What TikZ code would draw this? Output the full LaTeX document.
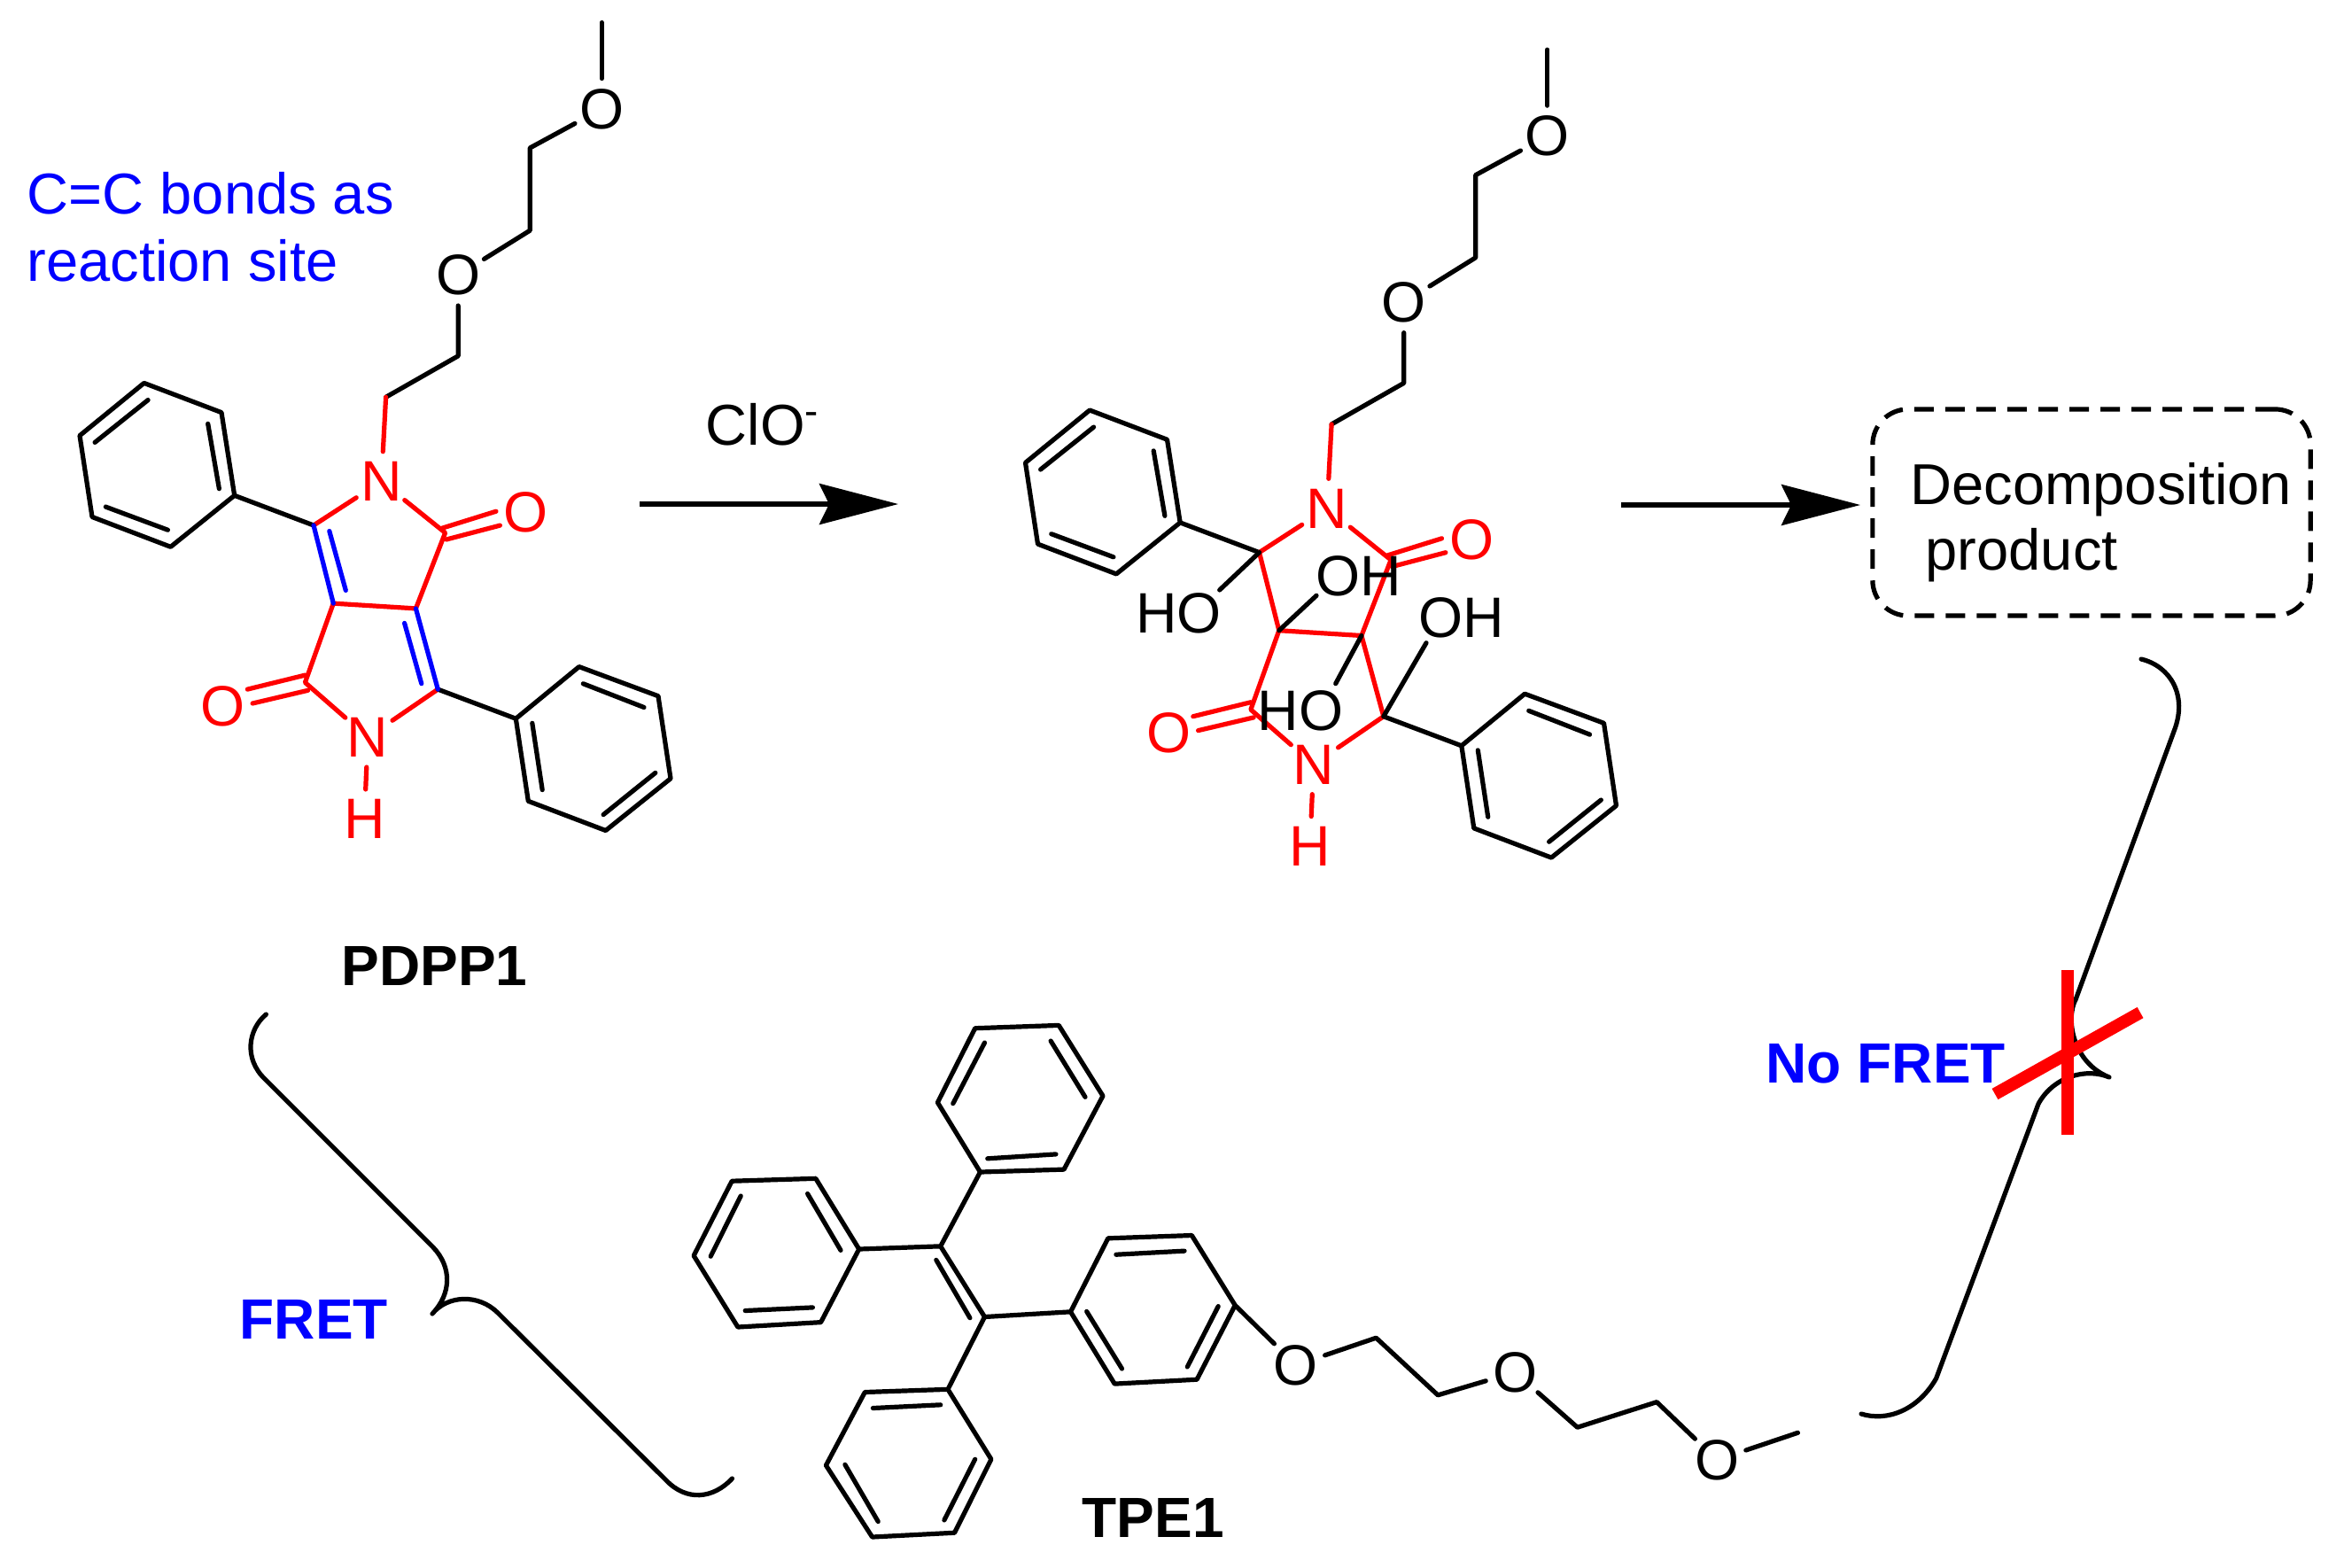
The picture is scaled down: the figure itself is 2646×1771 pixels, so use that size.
\documentclass[tikz,border=0pt]{standalone}
\usepackage{fontspec}
\setmainfont{Liberation Sans}
\usetikzlibrary{arrows.meta}
\tikzset{
  bond/.style={line width=.052cm, line join=round, line cap=round},
  redbond/.style={bond, red},
  bluebond/.style={bond, blue},
  atom/.style={circle, inner sep=0pt, minimum size=.66cm, font=\fontsize{18.3}{22}\selectfont},
  ohlabel/.style={inner sep=0pt, font=\fontsize{18.3}{22}\selectfont},
  caption/.style={inner sep=0pt, anchor=base west, font=\fontsize{18.5}{22}\selectfont},
  boxtext/.style={inner sep=0pt, anchor=base west, font=\fontsize{18.5}{22}\selectfont},
  molname/.style={inner sep=0pt, anchor=base west, font=\fontsize{18.2}{22}\selectfont\bfseries},
  rxnarrow/.style={line width=.052cm, -{Stealth[length=.89cm,width=.46cm,inset=.11cm]}},
  decbox/.style={draw, line width=.052cm, rounded corners=.4cm, dash pattern=on .22cm off .13cm,
    minimum width=4.94cm, minimum height=2.33cm, inner sep=0pt},
  crossbar/.style={red, line width=.14cm}
}
% the parts that both molecules share
\newcommand{\skeleton}{
  \node[atom, black] (otop) at (679.2,123) {O};
  \node[atom, black] (olow) at (517.2,310.6) {O};
  \node[atom, red] (nup) at (430.5,543.4) {N};
  \node[atom, red] (ndown) at (415.2,832.3) {N};
  \node[atom, red] (hn) at (411.3,924.7) {H};
  \node[atom, red] (oup) at (593.7,578.4) {O};
  \node[atom, red] (odown) at (251.9,797.2) {O};
  \coordinate (ca) at (354,593);
  \coordinate (cb) at (376.3,681.1);
  \coordinate (cd) at (469.4,686.9);
  \coordinate (ce) at (494.3,778.1);
  \coordinate (cf) at (502.6,601.4);
  \coordinate (cg) at (344.4,770.4);
  \coordinate (ch) at (435.6,448.3);
  \coordinate (phl) at (264.7,559.3);
  \coordinate (phr) at (582.3,811.2);
  \coordinate (metop) at (679.2,25.5);
  % chain
  \draw[bond] (metop) -- (otop);
  \draw[bond] (otop) -- (598.2,167) -- (598.2,260.2) -- (olow);
  \draw[bond] (olow) -- (517.2,401.8) -- (ch);
  \draw[redbond] (ch) -- (nup);
  % five-membered rings
  \draw[redbond] (ca) -- (nup);
  \draw[redbond] (nup) -- (cf) -- (cd);
  \draw[redbond] (cb) -- (cd);
  \draw[redbond] (cb) -- (cg) -- (ndown);
  \draw[redbond] (ndown) -- (ce);
  \draw[redbond] (ndown) -- (hn);
  % carbonyls
  \draw[redbond] (498.7,596.3) -- (560,577.2);
  \draw[redbond] (503.8,609) -- (564.4,593.1);
  \draw[redbond] (279.3,778.1) -- (344.4,762.1);
  \draw[redbond] (285.1,794) -- (347.6,779.3);
  % phenyls
  \draw[bond] (phl) -- (ca);
  \draw[bond] (phr) -- (ce);
  \draw[bond] (162.6,432.4) -- (250,465.6) -- (phl) -- (192.6,617.3) -- (104,583.5) -- (90,491.7) -- cycle;
  \draw[bond] (167.1,451.5) -- (107.1,499.4);
  \draw[bond] (234.7,478.3) -- (247.4,551.7);
  \draw[bond] (119.3,572.1) -- (189.4,598.2);
  \draw[bond] (phr) -- (653.7,752.6) -- (743,785.7) -- (757,878.8) -- (683.7,937.5) -- (596.3,904.3) -- cycle;
  \draw[bond] (658.2,771.7) -- (727,798.5);
  \draw[bond] (739.8,872.4) -- (681.1,919.6);
  \draw[bond] (600.8,816.3) -- (612.2,891.6);
}
\begin{document}
\begin{tikzpicture}[x=.01cm, y=-.01cm]
  \useasboundingbox (0,0) rectangle (2646,1769);

  % PDPP1
  \skeleton
  \draw[bluebond] (ca) -- (cb);
  \draw[bluebond] (371.8,599.5) -- (390.3,666.4);
  \draw[bluebond] (cd) -- (ce);
  \draw[bluebond] (456.6,703.4) -- (475.8,771.7);
  \node[caption, blue] (sitea) at (30,241) {C=C bonds as};
  \node[caption, blue] (siteb) at (30,317) {reaction site};
  \node[molname] (pdpp) at (385,1112) {PDPP1};

  % first arrow
  \coordinate (arrowa) at (722,569);
  \coordinate (arrowb) at (1014,569);
  \draw[rxnarrow] (arrowa) -- (arrowb);
  \node[caption] (clo) at (796,502) {ClO\textsuperscript{-}};

  % oxidised molecule
  \begin{scope}[shift={(1067.5,30.6)}]
    \skeleton
    \draw[redbond] (ca) -- (cb);
    \draw[redbond] (cd) -- (ce);
    \coordinate (hoa) at (309.2,635.4);
    \coordinate (hob) at (418.5,641.7);
    \coordinate (hoc) at (440.2,741.1);
    \coordinate (hod) at (542.5,695.1);
    \draw[bond] (ca) -- (hoa);
    \draw[bond] (cb) -- (hob);
    \draw[bond] (cd) -- (hoc);
    \draw[bond] (ce) -- (hod);
    \node[ohlabel] (lhoa) at (263.2,661.7) {HO};
    \node[ohlabel] (lhob) at (465.8,620.1) {OH};
    \node[ohlabel] (lhoc) at (400.5,771.7) {HO};
    \node[ohlabel] (lhod) at (582.5,666.7) {OH};
  \end{scope}

  % second arrow and box
  \coordinate (arrowc) at (1830,570);
  \coordinate (arrowd) at (2100,570);
  \draw[rxnarrow] (arrowc) -- (arrowd);
  \node[decbox] (dbox) at (2361,578.5) {};
  \node[boxtext] (deca) at (2156,569) {Decomposition};
  \node[boxtext] (decb) at (2173,643) {product};

  % TPE1
  \coordinate (cc) at (1061.7,1406.8);
  \coordinate (cj) at (1111.5,1486.5);
  \coordinate (pa) at (969.7,1410);
  \coordinate (pb) at (1106.5,1323);
  \coordinate (pc) at (1208.5,1480.8);
  \coordinate (pd) at (1070,1568.3);
  \coordinate (pe) at (1394.2,1473.4);
  \node[atom] (oa) at (1463,1540.9) {O};
  \node[atom] (ob) at (1710.2,1549) {O};
  \node[atom] (oc) at (1938.2,1648) {O};
  \coordinate (mee) at (2029.4,1617.3);
  \draw[bond] (cc) -- (cj);
  \draw[bond] (1056.8,1422.3) -- (1094.9,1487.7);
  \draw[bond] (cc) -- (pa);
  \draw[bond] (cc) -- (pb);
  \draw[bond] (cj) -- (pc);
  \draw[bond] (cj) -- (pd);
  \draw[bond] (1100.7,1160.7) -- (1195.2,1157.4) -- (1245,1237.1) -- (1201,1320.1) -- (pb) -- (1058.4,1244.5) -- cycle;
  \draw[bond] (1111.5,1177) -- (1075.8,1245.7);
  \draw[bond] (1186.1,1175) -- (1225,1238.3);
  \draw[bond] (1114.8,1307.8) -- (1191.9,1302.9);
  \draw[bond] (826.2,1333.2) -- (920.8,1330.3) -- (pa) -- (926.6,1492.6) -- (832.9,1498) -- (783.1,1417.4) -- cycle;
  \draw[bond] (836.2,1350) -- (802.2,1418.2);
  \draw[bond] (911.6,1347.5) -- (949,1411.3);
  \draw[bond] (841.2,1479.5) -- (917.4,1475.9);
  \draw[bond] (1250.8,1397.8) -- (1345.3,1394.5) -- (pe) -- (1351.1,1557.2) -- (1258.2,1562.1) -- (pc) -- cycle;
  \draw[bond] (1259.9,1416.2) -- (1337,1412.1);
  \draw[bond] (1375.2,1474.6) -- (1340.3,1542.9);
  \draw[bond] (1226.7,1480.4) -- (1266.5,1545);
  \draw[bond] (pd) -- (976.3,1571.5) -- (932.4,1654.1) -- (984.6,1735) -- (1077.5,1730.2) -- (1118.9,1647.2) -- cycle;
  \draw[bond] (985.4,1589.5) -- (1061.7,1585.8);
  \draw[bond] (953.9,1653.3) -- (991.2,1717.5);
  \draw[bond] (1100.7,1647.2) -- (1065.9,1715.9);
  \draw[bond] (pe) -- (oa);
  \draw[bond] (oa) -- (1553.4,1510.2) -- (1623.1,1574.8) -- (ob);
  \draw[bond] (ob) -- (1780.6,1611.2) -- (1870.2,1582.6) -- (oc);
  \draw[bond] (oc) -- (mee);
  \node[molname] (tpe) at (1221,1735) {TPE1};

  % left brace
  \draw[bond] (300.4,1145) .. controls (280,1162) and (275,1195) .. (299,1218)
    -- (489,1408) .. controls (510,1430) and (510,1460) .. (488,1483)
    .. controls (505,1462) and (540,1460) .. (562,1482)
    -- (752,1671) .. controls (775,1695) and (805,1692) .. (826.5,1669);
  \node[molname, blue] (fret) at (270,1511) {FRET};

  % right brace
  \draw[bond] (2417,744) .. controls (2450,752) and (2470,785) .. (2454,825.5)
    -- (2343.3,1127.7) .. controls (2331,1150) and (2340,1200) .. (2381,1216)
    .. controls (2355,1205) and (2318,1215) .. (2301,1246)
    -- (2185.6,1556) .. controls (2165,1592) and (2130,1605) .. (2101,1596);
  \node[molname, blue] (nofret) at (1993,1222) {No FRET};

  % red cross
  \coordinate (crossa) at (2333.6,1095);
  \coordinate (crossb) at (2333.6,1281);
  \coordinate (crossc) at (2252,1235);
  \coordinate (crossd) at (2416,1143);
  \draw[crossbar] (crossa) -- (crossb);
  \draw[crossbar] (crossc) -- (crossd);
\end{tikzpicture}
\end{document}
